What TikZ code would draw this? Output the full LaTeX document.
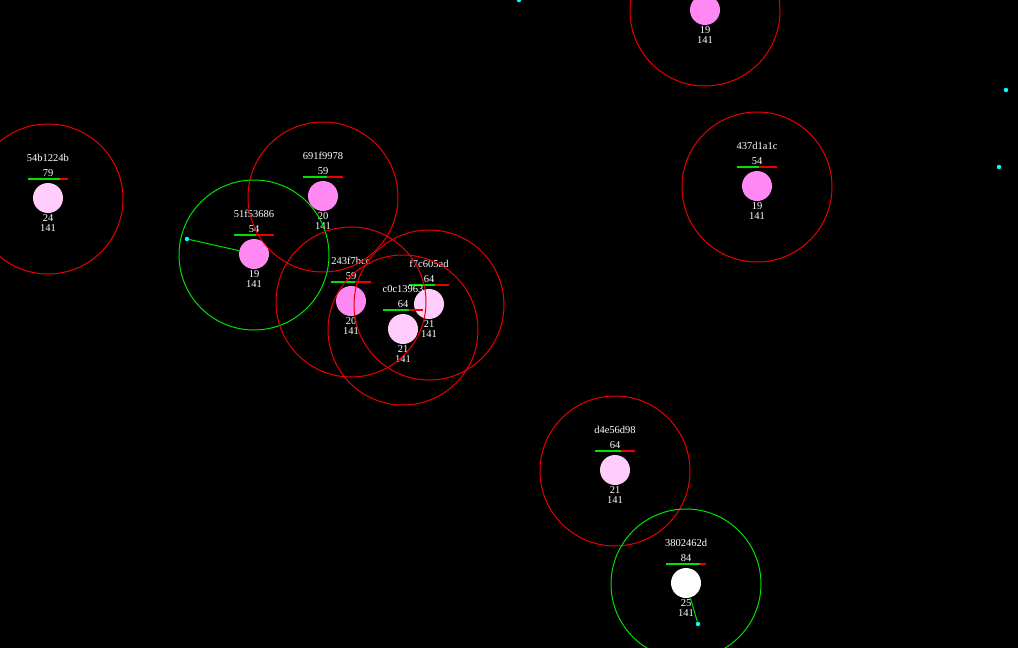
\documentclass[tikz,border=0pt]{standalone}
\usepackage{fontspec}
\setmainfont{Liberation Serif}
\usetikzlibrary{positioning}

\definecolor{ballhot}{RGB}{255,136,242}
\definecolor{ballsoft}{RGB}{255,204,252}
\definecolor{ringred}{RGB}{235,0,0}
\definecolor{ringgreen}{RGB}{0,225,0}
\definecolor{dotcyan}{RGB}{0,255,255}

\begin{document}
\begin{tikzpicture}[
        x=1pt, y=-1pt,
        ball/.style={circle, inner sep=0pt, minimum size=30pt},
        ring/.style={circle, draw, line width=1pt, inner sep=0pt, minimum size=150pt},
        lbl/.style={text=white, font=\fontsize{10.5}{10.5}\selectfont, inner sep=0pt},
        target/.style={circle, fill=dotcyan, inner sep=0pt, minimum size=4.5pt},
        bar/.style={line width=1.3pt},
        link/.style={draw=ringgreen, line width=1pt}
    ]
        \fill[black] (0,0) rectangle (1018,648);
        \useasboundingbox (0,0) rectangle (1018,648);
        \clip (0,0) rectangle (1018,648);

        % balls with their labels and bars
        \foreach \id/\x/\y/\name/\v/\low/\bc in {
            a/48/198/54b1224b/79/24/ballsoft,
            b/323/196/691f9978/59/20/ballhot,
            c/254/254/51f53686/54/19/ballhot,
            d/351/301/243f7bcc/59/20/ballhot,
            e/429/304/f7c605ad/64/21/ballsoft,
            f/403/329/c0c13963/64/21/ballsoft,
            g/757/186/437d1a1c/54/19/ballhot,
            h/615/470/d4e56d98/64/21/ballsoft,
            i/686/583/3802462d/84/25/white} {
            \node[ball, fill=\bc] (b-\id) at (\x,\y) {};
            \node[lbl] (n-\id) at (\x,\y-40) {\name};
            \node[lbl] (v-\id) at (\x,\y-25) {\v};
            \draw[bar, ringgreen] (\x-20,\y-19) -- (\x-20+0.4*\v,\y-19);
            \draw[bar, ringred] (\x-20+0.4*\v,\y-19) -- (\x+20,\y-19);
            \node[lbl] (l-\id) at (\x,\y+20) {\low};
            \node[lbl] (m-\id) at (\x,\y+30) {141};
        }
        \node[ball, fill=ballhot] (b-top) at (705,10) {};
        \node[lbl] (l-top) at (705,30) {19};
        \node[lbl] (m-top) at (705,40) {141};

        % targets
        \node[target] (t-c) at (187,239) {};
        \node[target] (t-i) at (698,624) {};
        \node[target] (t-1) at (519,0) {};
        \node[target] (t-2) at (1006,90) {};
        \node[target] (t-3) at (999,167) {};
        \draw[link] (b-c) -- (t-c);
        \draw[link] (b-i) -- (t-i);

        % rings
        \foreach \id/\rc in {a/ringred, b/ringred, c/ringgreen, d/ringred, e/ringred,
                             f/ringred, g/ringred, h/ringred, i/ringgreen, top/ringred}
            \node[ring, draw=\rc] (r-\id) at ([yshift=-1pt]b-\id.center) {};
    \end{tikzpicture}
\end{document}
